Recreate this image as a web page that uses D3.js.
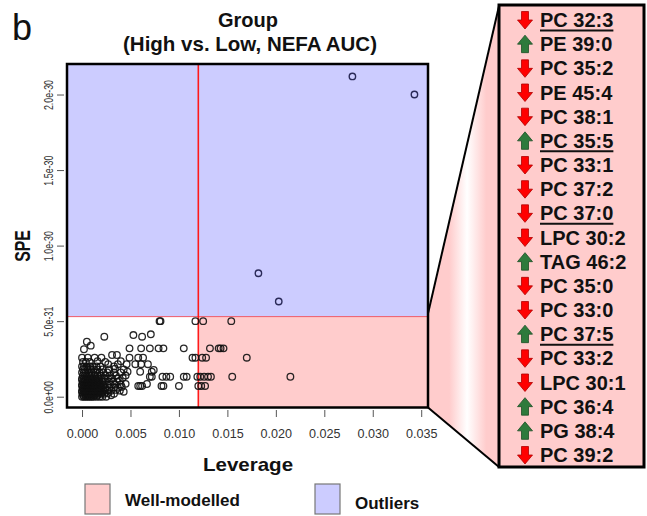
<!DOCTYPE html>
<html>
<head>
<meta charset="utf-8">
<script src="https://cdn.jsdelivr.net/npm/d3@7"></script>
<style>
  body { margin: 0; background: #fff; }
  svg { display: block; font-family: "Liberation Sans", Arial, sans-serif; }
</style>
</head>
<body>
<svg id="chart" width="647" height="516"></svg>
<script>
// ---- thresholds (SPE in units of 1e-30) ----
const leverageLimit = 0.012;
const speLimit = 0.53;

// ---- axis ticks ----
const xTicks = [0, 0.005, 0.010, 0.015, 0.020, 0.025, 0.030, 0.035];
const yTicks = [0, 0.5, 1.0, 1.5, 2.0];
const yTickLabels = ["0.0e+00", "5.0e-31", "1.0e-30", "1.5e-30", "2.0e-30"];

// ---- samples: [leverage, SPE (x1e-30)] ----
const outlierPoints = [
  [0.0279, 2.12], [0.0343, 2.00], [0.0182, 0.817], [0.0203, 0.63]
];

const spreadPoints = [
  [0.0080, 0.50], [0.0081, 0.50], [0.0117, 0.50], [0.0125, 0.50], [0.0154, 0.50],
  [0.0023, 0.397], [0.0053, 0.408], [0.0062, 0.397], [0.0071, 0.413],
  [0.0005, 0.364], [0.0009, 0.338], [0.0002, 0.314],
  [0.0049, 0.32], [0.0061, 0.32], [0.0070, 0.32], [0.0079, 0.32], [0.0084, 0.32],
  [0.0105, 0.32], [0.0132, 0.32], [0.0141, 0.32], [0.0143, 0.32], [0.0146, 0.32],
  [0.0000, 0.258], [0.0006, 0.258], [0.0013, 0.258], [0.0020, 0.258], [0.0031, 0.276],
  [0.0036, 0.276], [0.0049, 0.258], [0.0058, 0.258], [0.0063, 0.258], [0.0114, 0.258],
  [0.0117, 0.258], [0.0124, 0.258], [0.0128, 0.258], [0.0170, 0.258],
  [0.0027, 0.215], [0.0037, 0.215], [0.0046, 0.215], [0.0055, 0.215], [0.0061, 0.215], [0.0068, 0.215],
  [0.0060, 0.165], [0.0072, 0.165], [0.0074, 0.177],
  [0.0070, 0.132], [0.0072, 0.132], [0.0083, 0.132], [0.0087, 0.132], [0.0091, 0.132],
  [0.0105, 0.132], [0.0108, 0.132], [0.0119, 0.132], [0.0122, 0.132], [0.0126, 0.132],
  [0.0130, 0.132], [0.0133, 0.132], [0.0155, 0.132], [0.0215, 0.132],
  [0.0058, 0.071], [0.0060, 0.071], [0.0062, 0.071], [0.0067, 0.084], [0.0082, 0.071],
  [0.0084, 0.071], [0.0100, 0.071], [0.0120, 0.071], [0.0123, 0.071], [0.0127, 0.071]
];

const clusterPoints = [
  [0.0000, 0.00], [0.0002, 0.00], [0.0004, 0.00], [0.0006, 0.00], [0.0008, 0.00], [0.0010, 0.00],
  [0.0012, 0.00], [0.0015, 0.00], [0.0018, 0.00], [0.0021, 0.00], [0.0025, 0.00], [0.0030, 0.01],
  [0.0001, 0.01], [0.0004, 0.01], [0.0007, 0.01], [0.0010, 0.01], [0.0013, 0.01], [0.0016, 0.01],
  [0.0001, 0.02], [0.0003, 0.02], [0.0005, 0.02], [0.0007, 0.02], [0.0009, 0.02], [0.0011, 0.02],
  [0.0014, 0.02], [0.0017, 0.02], [0.0020, 0.02], [0.0023, 0.02], [0.0027, 0.024], [0.0033, 0.02],
  [0.0043, 0.033],
  [0.0000, 0.03], [0.0003, 0.03], [0.0006, 0.03], [0.0009, 0.03], [0.0012, 0.03], [0.0015, 0.03],
  [0.0018, 0.03], [0.0021, 0.03],
  [0.0000, 0.04], [0.0002, 0.04], [0.0004, 0.04], [0.0006, 0.04], [0.0008, 0.04], [0.0010, 0.04],
  [0.0013, 0.04], [0.0016, 0.04], [0.0019, 0.04], [0.0022, 0.04], [0.0026, 0.04], [0.0030, 0.04],
  [0.0035, 0.045], [0.0039, 0.04],
  [0.0001, 0.05], [0.0004, 0.05], [0.0007, 0.05], [0.0010, 0.05], [0.0013, 0.05], [0.0016, 0.05],
  [0.0019, 0.05], [0.0024, 0.05],
  [0.0001, 0.06], [0.0003, 0.06], [0.0005, 0.06], [0.0007, 0.06], [0.0009, 0.06], [0.0012, 0.06],
  [0.0014, 0.06], [0.0017, 0.06], [0.0020, 0.06], [0.0024, 0.06], [0.0028, 0.06], [0.0033, 0.06],
  [0.0037, 0.06], [0.0041, 0.065],
  [0.0000, 0.07], [0.0003, 0.07], [0.0006, 0.07], [0.0009, 0.07], [0.0012, 0.07], [0.0015, 0.07],
  [0.0018, 0.07], [0.0022, 0.07],
  [0.0000, 0.08], [0.0002, 0.08], [0.0004, 0.08], [0.0006, 0.08], [0.0009, 0.08], [0.0011, 0.08],
  [0.0013, 0.08], [0.0016, 0.08], [0.0019, 0.08], [0.0022, 0.08], [0.0026, 0.08], [0.0029, 0.08],
  [0.0034, 0.08], [0.0040, 0.08], [0.0045, 0.085],
  [0.0001, 0.09], [0.0004, 0.09], [0.0007, 0.09], [0.0010, 0.09], [0.0013, 0.09], [0.0017, 0.09],
  [0.0001, 0.10], [0.0003, 0.10], [0.0005, 0.10], [0.0007, 0.10], [0.0010, 0.10], [0.0012, 0.10],
  [0.0015, 0.10], [0.0018, 0.10], [0.0021, 0.10], [0.0024, 0.10], [0.0028, 0.10], [0.0032, 0.10],
  [0.0036, 0.10], [0.0039, 0.105],
  [0.0000, 0.11], [0.0003, 0.11], [0.0006, 0.11], [0.0009, 0.11], [0.0013, 0.11], [0.0016, 0.11],
  [0.0000, 0.12], [0.0002, 0.12], [0.0004, 0.12], [0.0006, 0.12], [0.0009, 0.12], [0.0011, 0.12],
  [0.0014, 0.12], [0.0017, 0.12], [0.0020, 0.12], [0.0023, 0.12], [0.0027, 0.12], [0.0031, 0.12],
  [0.0037, 0.12], [0.0042, 0.125],
  [0.0001, 0.14], [0.0003, 0.14], [0.0005, 0.14], [0.0008, 0.14], [0.0010, 0.14], [0.0013, 0.14],
  [0.0016, 0.14], [0.0019, 0.14], [0.0024, 0.14], [0.0029, 0.14], [0.0035, 0.14], [0.0045, 0.14],
  [0.0000, 0.16], [0.0002, 0.16], [0.0004, 0.16], [0.0007, 0.16], [0.0010, 0.16], [0.0014, 0.16],
  [0.0018, 0.16], [0.0022, 0.16], [0.0026, 0.16], [0.0033, 0.16], [0.0040, 0.16], [0.0047, 0.165],
  [0.0001, 0.18], [0.0003, 0.18], [0.0006, 0.18], [0.0009, 0.18], [0.0012, 0.18], [0.0016, 0.18],
  [0.0021, 0.18], [0.0028, 0.18], [0.0034, 0.185], [0.0043, 0.18],
  [0.0000, 0.20], [0.0002, 0.20], [0.0005, 0.20], [0.0008, 0.20], [0.0011, 0.20], [0.0015, 0.20],
  [0.0019, 0.20], [0.0033, 0.20],
  [0.0001, 0.23], [0.0004, 0.23], [0.0008, 0.23], [0.0016, 0.235], [0.0024, 0.23], [0.0040, 0.235]
];

// ---- lipid list ----
const lipidNames = ["PC 32:3", "PE 39:0", "PC 35:2", "PE 45:4", "PC 38:1", "PC 35:5", "PC 33:1",
  "PC 37:2", "PC 37:0", "LPC 30:2", "TAG 46:2", "PC 35:0", "PC 33:0", "PC 37:5", "PC 33:2",
  "LPC 30:1", "PC 36:4", "PG 38:4", "PC 39:2"];
const lipidDirection = ["down", "up", "down", "down", "down", "up", "down",
  "down", "down", "down", "up", "down", "down", "up", "down",
  "down", "up", "up", "down"];
const lipidUnderlined = ["PC 32:3", "PC 35:5", "PC 37:0", "PC 37:5"];

// ---- legend ----
const legendLabels = ["Well-modelled", "Outliers"];

const PINK = "#ffcccc", BLUE = "#ccccff";

const svg = d3.select("#chart");
const plot = { left: 67, right: 428, top: 64, bottom: 407.5 };

const x = d3.scaleLinear().domain([-0.00155, 0.0357]).range([plot.left, plot.right]);
const y = d3.scaleLinear().domain([-0.0715, 2.202]).range([plot.bottom, plot.top]);

// panel label and title
svg.append("text").attr("x", 12).attr("y", 40).attr("font-size", 36).attr("fill", "#111").text("b");
svg.append("text").attr("x", 248).attr("y", 27).attr("text-anchor", "middle")
  .attr("font-size", 20).attr("font-weight", "bold").attr("fill", "#111").text("Group");
svg.append("text").attr("x", 250).attr("y", 51).attr("text-anchor", "middle")
  .attr("font-size", 20.5).attr("font-weight", "bold").attr("fill", "#111").text("(High vs. Low, NEFA AUC)");

// connector between plot and lipid panel
const defs = svg.append("defs");
const grad = defs.append("linearGradient").attr("id", "connGrad")
  .attr("gradientUnits", "userSpaceOnUse").attr("x1", plot.right).attr("x2", 499).attr("y1", 0).attr("y2", 0);
[[0, PINK], [0.3, PINK], [0.55, "#ffffff"], [0.82, PINK], [1, PINK]].forEach(([o, c]) =>
  grad.append("stop").attr("offset", o).attr("stop-color", c));

const yTopConn = y(speLimit) - 3;
svg.append("path")
  .attr("d", `M${plot.right},${yTopConn} L499,6 L499,467 L${plot.right},${plot.bottom} Z`)
  .attr("fill", "url(#connGrad)");
svg.append("line").attr("x1", plot.right).attr("y1", yTopConn).attr("x2", 499).attr("y2", 6)
  .attr("stroke", "#000").attr("stroke-width", 2);
svg.append("line").attr("x1", plot.right).attr("y1", plot.bottom).attr("x2", 499).attr("y2", 467)
  .attr("stroke", "#000").attr("stroke-width", 2);

// region shading
svg.append("rect").attr("x", plot.left).attr("y", plot.top)
  .attr("width", plot.right - plot.left).attr("height", y(speLimit) - plot.top).attr("fill", BLUE);
svg.append("rect").attr("x", x(leverageLimit)).attr("y", y(speLimit))
  .attr("width", plot.right - x(leverageLimit)).attr("height", plot.bottom - y(speLimit)).attr("fill", PINK);

// threshold lines
svg.append("line").attr("x1", plot.left).attr("x2", plot.right)
  .attr("y1", y(speLimit)).attr("y2", y(speLimit)).attr("stroke", "#ee5a6a").attr("stroke-width", 1);
svg.append("line").attr("x1", x(leverageLimit)).attr("x2", x(leverageLimit))
  .attr("y1", plot.top).attr("y2", plot.bottom).attr("stroke", "#ff1a1a").attr("stroke-width", 1.6);

// points
const allPoints = clusterPoints.concat(spreadPoints);
svg.append("g").selectAll("circle").data(allPoints).join("circle")
  .attr("cx", d => x(d[0])).attr("cy", d => y(d[1])).attr("r", 3.3)
  .attr("fill", "none").attr("stroke", "#111").attr("stroke-width", 1.3).attr("stroke-opacity", 0.9);
svg.append("g").selectAll("circle").data(outlierPoints).join("circle")
  .attr("cx", d => x(d[0])).attr("cy", d => y(d[1])).attr("r", 3.2)
  .attr("fill", "none").attr("stroke", "#2a2a58").attr("stroke-width", 1.4);

// plot frame
svg.append("rect").attr("x", plot.left).attr("y", plot.top)
  .attr("width", plot.right - plot.left).attr("height", plot.bottom - plot.top)
  .attr("fill", "none").attr("stroke", "#000").attr("stroke-width", 2.5);

// x axis
const xAxis = svg.append("g").attr("transform", "translate(0,410)")
  .call(d3.axisBottom(x).tickValues(xTicks).tickSize(7).tickPadding(12).tickFormat(d3.format(".3f")));
xAxis.select(".domain").remove();
xAxis.selectAll(".tick line").attr("stroke", "#555");
xAxis.selectAll(".tick text").attr("font-size", 12).attr("fill", "#333")
  .attr("font-family", "Liberation Sans, Arial, sans-serif").attr("transform", "scale(1.05,1)");

// y axis
const yAxis = svg.append("g").attr("transform", "translate(64,0)")
  .call(d3.axisLeft(y).tickValues(yTicks).tickSize(7).tickFormat((d, i) => yTickLabels[i]));
yAxis.select(".domain").remove();
yAxis.selectAll(".tick line").attr("stroke", "#555");
yAxis.selectAll(".tick text")
  .attr("x", 0).attr("y", 0).attr("dy", 0).attr("text-anchor", "middle")
  .attr("font-size", 13.5).attr("fill", "#333").attr("font-family", "Liberation Sans, Arial, sans-serif")
  .attr("transform", "translate(-11,0) scale(1,0.66) rotate(-90)");

// axis titles
svg.append("text").attr("transform", "translate(248,471) scale(1.14,1)").attr("text-anchor", "middle")
  .attr("font-size", 18).attr("font-weight", "bold").attr("fill", "#111").text("Leverage");
svg.append("text").attr("transform", "translate(30,246) scale(1,0.72) rotate(-90)").attr("text-anchor", "middle")
  .attr("font-size", 22).attr("font-weight", "bold").attr("fill", "#111").text("SPE");

// legend
const legendX = [85, 315], legendTextX = [125, 355], legendFill = [PINK, BLUE];
legendLabels.forEach((lab, i) => {
  svg.append("rect").attr("x", legendX[i]).attr("y", 484).attr("width", 25).attr("height", 30)
    .attr("fill", legendFill[i]).attr("stroke", "#777").attr("stroke-width", 1.2);
  svg.append("text").attr("x", legendTextX[i]).attr("y", 506 + i * 3)
    .attr("font-size", 17).attr("font-weight", "bold").attr("fill", "#111").text(lab);
});

// lipid panel
svg.append("rect").attr("x", 499).attr("y", 5).attr("width", 145).attr("height", 462)
  .attr("fill", PINK).attr("stroke", "#000").attr("stroke-width", 3);

const rowY = d3.scalePoint().domain(d3.range(lipidNames.length)).range([20, 455]);
const downArrow = "M-3.5,-8.5 L3.5,-8.5 L3.5,0 L7.5,0 L0,9 L-7.5,0 L-3.5,0 Z";
const upArrow = "M-3.5,8.5 L3.5,8.5 L3.5,0 L7.5,0 L0,-9 L-7.5,0 L-3.5,0 Z";

lipidNames.forEach((name, i) => {
  const cy = rowY(i);
  const dir = lipidDirection[i];
  svg.append("path").attr("transform", `translate(525,${cy})`)
    .attr("d", dir === "down" ? downArrow : upArrow)
    .attr("fill", dir === "down" ? "#ff0000" : "#2e7a3c")
    .attr("stroke", dir === "down" ? "#b00000" : "#1c4f26").attr("stroke-width", 0.8);
  const t = svg.append("text").attr("x", 540).attr("y", cy + 7)
    .attr("font-size", 20).attr("font-weight", "bold").attr("fill", "#111").text(name);
  if (lipidUnderlined.includes(name)) {
    const w = t.node().getComputedTextLength();
    svg.append("line").attr("x1", 540).attr("x2", 540 + w)
      .attr("y1", cy + 10.5).attr("y2", cy + 10.5).attr("stroke", "#111").attr("stroke-width", 2);
  }
});
</script>
</body>
</html>
